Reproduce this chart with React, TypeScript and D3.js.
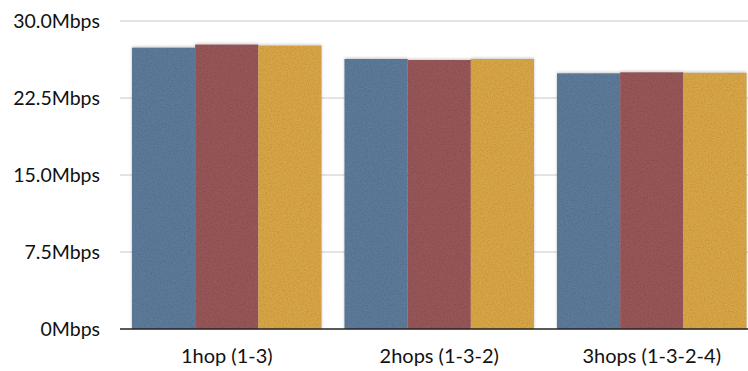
import React from "react";
import * as d3 from "d3";

const categories = ["1hop (1-3)", "2hops (1-3-2)", "3hops (1-3-2-4)"];
const seriesA = [27.4, 26.3, 24.9];
const seriesB = [27.7, 26.2, 25.0];
const seriesC = [27.6, 26.3, 24.95];
const yTicks = [0, 7.5, 15, 22.5, 30];
const yTickLabels = ["0Mbps", "7.5Mbps", "15.0Mbps", "22.5Mbps", "30.0Mbps"];
const seriesNames = ["A", "B", "C"];
const colors = ["#5d7a9a", "#975759", "#d8a647"];

const W = 748;
const H = 371;

export default function App() {
  const series = [seriesA, seriesB, seriesC];
  const y = d3.scaleLinear().domain([0, 30]).range([329, 21]);
  const x0 = d3
    .scaleBand<string>()
    .domain(categories)
    .range([120.5, 758])
    .paddingInner(0.108)
    .paddingOuter(0.054);
  const x1 = d3
    .scaleBand<string>()
    .domain(seriesNames)
    .range([0, x0.bandwidth()])
    .padding(0);
  const font = "'Lato', 'Open Sans', sans-serif";
  return (
    <svg
      width={W}
      height={H}
      style={{ position: "absolute", left: 0, top: 0, background: "#fff" }}
    >
      <defs>
        <filter id="tex" x="0" y="0" width="1" height="1">
          <feTurbulence type="fractalNoise" baseFrequency="0.7" numOctaves="2" seed="3" result="noise" />
          <feColorMatrix
            in="noise"
            type="matrix"
            values="0 0 0 0 0  0 0 0 0 0  0 0 0 0 0  0 0 0 -0.45 0.28"
            result="dark"
          />
          <feComposite in="dark" in2="SourceGraphic" operator="in" result="darkIn" />
          <feMerge>
            <feMergeNode in="SourceGraphic" />
            <feMergeNode in="darkIn" />
          </feMerge>
        </filter>
        <filter id="shadow" x="-10%" y="-10%" width="120%" height="120%">
          <feGaussianBlur in="SourceAlpha" stdDeviation="1.5" />
          <feOffset dx="0" dy="-1" result="b" />
          <feComponentTransfer in="b" result="s">
            <feFuncA type="linear" slope="0.22" />
          </feComponentTransfer>
          <feMerge>
            <feMergeNode in="s" />
          </feMerge>
        </filter>
      </defs>
      {yTicks.map((t, i) =>
        t === 0 ? null : (
          <line key={"g" + i} x1={120} x2={W} y1={y(t)} y2={y(t)} stroke="#c8c8c8" strokeWidth={1} />
        )
      )}
      {yTicks.map((t, i) => (
        <text
          key={"t" + i}
          x={100}
          y={y(t)}
          dy="0.35em"
          textAnchor="end"
          fontFamily={font}
          fontSize={19.5}
          fill="#111"
        >
          {yTickLabels[i]}
        </text>
      ))}
      {categories.map((c, ci) =>
        series.map((s, si) => (
          <rect
            key={"sh" + ci + "-" + si}
            x={(x0(c) ?? 0) + (x1(seriesNames[si]) ?? 0)}
            y={y(s[ci])}
            width={x1.bandwidth()}
            height={y(0) - y(s[ci])}
            fill="#000"
            filter="url(#shadow)"
          />
        ))
      )}
      {categories.map((c, ci) =>
        series.map((s, si) => (
          <rect
            key={"b" + ci + "-" + si}
            x={(x0(c) ?? 0) + (x1(seriesNames[si]) ?? 0)}
            y={y(s[ci])}
            width={x1.bandwidth()}
            height={y(0) - y(s[ci])}
            fill={colors[si]}
            filter="url(#tex)"
          />
        ))
      )}
      <line x1={120} x2={W} y1={y(0)} y2={y(0)} stroke="#222" strokeWidth={1.5} />
      {categories.map((c) => (
        <text
          key={"c" + c}
          x={(x0(c) ?? 0) + x0.bandwidth() / 2}
          y={356}
          dy="0.35em"
          textAnchor="middle"
          fontFamily={font}
          fontSize={20}
          fill="#111"
        >
          {c}
        </text>
      ))}
    </svg>
  );
}
